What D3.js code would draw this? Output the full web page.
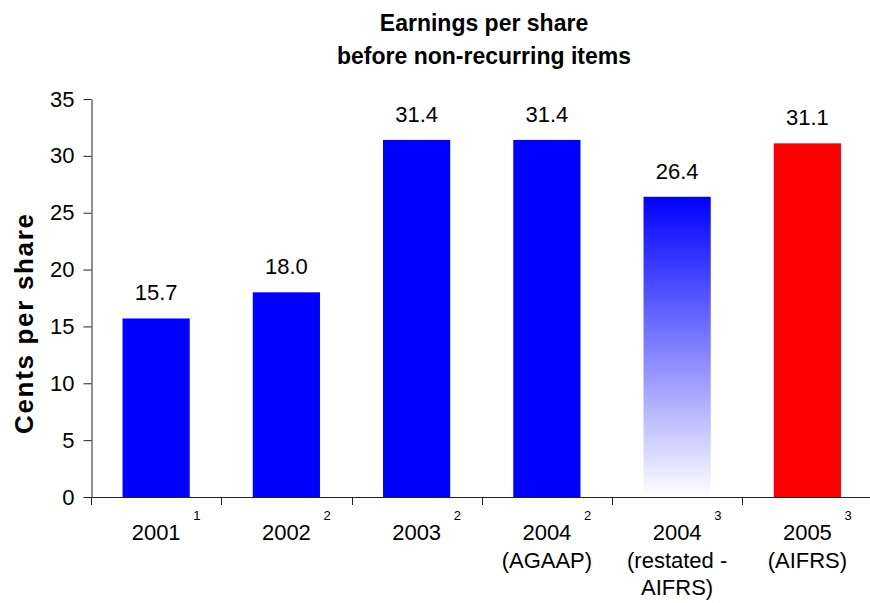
<!DOCTYPE html>
<html>
<head>
<meta charset="utf-8">
<script src="https://cdn.jsdelivr.net/npm/d3@7"></script>
<style>
  html, body { margin: 0; padding: 0; background: #fff; }
  svg { display: block; font-family: "Liberation Sans", Arial, Helvetica, sans-serif; }
</style>
</head>
<body>
<svg id="chart" width="870" height="603"></svg>
<script>
// Earnings per share before non-recurring items, cents per share
const periods   = ["2001", "2002", "2003", "2004 AGAAP", "2004 restated", "2005 AIFRS"];
const yearText  = ["2001", "2002", "2003", "2004", "2004", "2005"];
const subText   = [[], [], [], ["(AGAAP)"], ["(restated -", "AIFRS)"], ["(AIFRS)"]];
const footnotes = ["1", "2", "2", "2", "3", "3"];
const basis     = ["AGAAP", "AGAAP", "AGAAP", "AGAAP", "AIFRS restated", "AIFRS"];
const eps       = [15.7, 18.0, 31.4, 31.4, 26.4, 31.1];
const yTicks    = [0, 5, 10, 15, 20, 25, 30, 35];
const titleLines = ["Earnings per share", "before non-recurring items"];
const yTitle    = "Cents per share";

const rows = periods.map((p, i) => ({
  key: p, year: yearText[i], sub: subText[i], note: footnotes[i], basis: basis[i], value: eps[i]
}));

const svg = d3.select("#chart");
const plot = { left: 91, right: 872.5, top: 99, bottom: 497 };

const x = d3.scaleBand()
  .domain(periods)
  .range([plot.left, plot.right])
  .paddingInner(0.484)
  .paddingOuter(0.242);

const y = d3.scaleLinear()
  .domain([0, 35])
  .range([plot.bottom, plot.top]);

// Gradient used for the restated figure
const defs = svg.append("defs");
const grad = defs.append("linearGradient")
  .attr("id", "restatedFill")
  .attr("x1", 0).attr("y1", 0).attr("x2", 0).attr("y2", 1);
grad.append("stop").attr("offset", "0%").attr("stop-color", "#0000ff");
grad.append("stop").attr("offset", "100%").attr("stop-color", "#ffffff");

const fillFor = d3.scaleOrdinal()
  .domain(["AGAAP", "AIFRS restated", "AIFRS"])
  .range(["#0000ff", "url(#restatedFill)", "#ff0000"]);

// Bars
svg.append("g")
  .selectAll("rect")
  .data(rows)
  .join("rect")
  .attr("x", d => x(d.key))
  .attr("width", x.bandwidth())
  .attr("y", d => y(d.value))
  .attr("height", d => y(0) - y(d.value))
  .attr("fill", d => fillFor(d.basis));

// Value labels
const fmt = d3.format(".1f");
svg.append("g")
  .selectAll("text")
  .data(rows)
  .join("text")
  .attr("x", d => x(d.key) + x.bandwidth() / 2)
  .attr("y", d => y(d.value) - 18)
  .attr("text-anchor", "middle")
  .attr("font-size", 22)
  .attr("fill", "#000")
  .text(d => fmt(d.value));

// Y axis
const yAxis = svg.append("g")
  .attr("transform", `translate(${plot.left + 0.5},0)`)
  .call(d3.axisLeft(y).tickValues(yTicks).tickSize(8).tickPadding(9).tickSizeOuter(0));
yAxis.select(".domain").attr("stroke", "#222");
yAxis.selectAll(".tick line").attr("stroke", "#222");
yAxis.selectAll(".tick text")
  .attr("font-size", 22)
  .attr("font-family", "\"Liberation Sans\", Arial, sans-serif")
  .attr("fill", "#000");

// X axis line with tick marks between categories
const step = x.step();
const boundaries = d3.range(periods.length).map(i => x(periods[i]) - x.paddingInner() * step / 2);
const xAxisG = svg.append("g");
xAxisG.append("line")
  .attr("x1", plot.left).attr("x2", 870)
  .attr("y1", plot.bottom + 0.5).attr("y2", plot.bottom + 0.5)
  .attr("stroke", "#222");
xAxisG.selectAll("line.tick")
  .data(boundaries)
  .join("line")
  .attr("class", "tick")
  .attr("x1", d => Math.round(d) + 0.5).attr("x2", d => Math.round(d) + 0.5)
  .attr("y1", plot.bottom).attr("y2", plot.bottom + 8)
  .attr("stroke", "#222");

// Category labels with footnote markers
const catG = svg.append("g")
  .selectAll("g")
  .data(rows)
  .join("g")
  .attr("transform", d => `translate(${x(d.key) + x.bandwidth() / 2},0)`);
catG.append("text")
  .attr("text-anchor", "middle")
  .attr("font-size", 22)
  .attr("fill", "#000")
  .selectAll("tspan")
  .data(d => [d.year, ...d.sub])
  .join("tspan")
  .attr("x", 0)
  .attr("y", (d, i) => 540 + i * 27.5)
  .text(d => d);
catG.append("text")
  .attr("x", 37)
  .attr("y", 520)
  .attr("font-size", 13)
  .attr("fill", "#000")
  .text(d => d.note);

// Title
svg.append("text")
  .attr("text-anchor", "middle")
  .attr("font-weight", "bold")
  .attr("font-size", 23)
  .attr("fill", "#000")
  .selectAll("tspan")
  .data(titleLines)
  .join("tspan")
  .attr("x", 484)
  .attr("y", (d, i) => 31 + i * 32.5)
  .text(d => d);

// Y axis title
svg.append("text")
  .attr("transform", `translate(33,${(plot.top + plot.bottom) / 2 + 26}) rotate(-90)`)
  .attr("text-anchor", "middle")
  .attr("font-weight", "bold")
  .attr("font-size", 26)
  .attr("textLength", 220)
  .attr("fill", "#000")
  .text(yTitle);
</script>
</body>
</html>
